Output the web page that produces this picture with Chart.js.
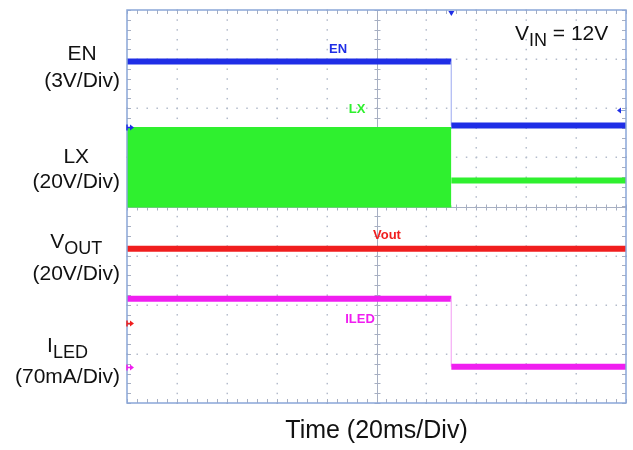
<!DOCTYPE html>
<html><head><meta charset="utf-8">
<script src="https://cdn.jsdelivr.net/npm/chart.js@4.4.1/dist/chart.umd.min.js"></script>
<style>html,body{margin:0;padding:0;background:#fff}#wrap{width:633px;height:450px}</style>
</head><body><div id="wrap"><canvas id="c" width="633" height="450"></canvas></div>
<script>
// ---- data (time in ms, 20 ms/div; levels in screen divisions from centre) ----
const STEP_TIME_MS = [0, 130, 130, 200];
const EN_DIV = [2.95, 2.95, 1.65, 1.65];
const LX_ON_TIME_MS = [0, 130];
const LX_ENV_TOP_DIV = [1.60, 1.60];
const LX_ENV_BOTTOM_DIV = [0.0, 0.0];
const LX_OFF_TIME_MS = [130, 200];
const LX_OFF_DIV = [0.53, 0.53];
const VOUT_TIME_MS = [0, 200];
const VOUT_DIV = [-0.86, -0.86];
const ILED_DIV = [-1.88, -1.88, -3.26, -3.26];
const X_TICKS_MS = [0, 20, 40, 60, 80, 100, 120, 140, 160, 180, 200];
const Y_TICKS_DIV = [-4, -3, -2, -1, 0, 1, 2, 3, 4];
const GROUND_LEVELS_DIV = [1.62, -2.37, -3.27];
const TRIGGER_TIME_MS = 130;
const TRIGGER_LEVEL_DIV = 1.97;
const CHANNEL_NAMES = ['EN', 'LX', 'V|OUT', 'I|LED'];
const CHANNEL_SCALES = ['(3V/Div)', '(20V/Div)', '(20V/Div)', '(70mA/Div)'];
const TRACE_TAGS = ['EN', 'LX', 'Vout', 'ILED'];
const X_TITLE = 'Time (20ms/Div)';
const VIN_TEXT = ['V', 'IN', ' = 12V'];

const BLUE = '#1f2ee6', GREEN = '#2ff02f', RED = '#f01e1e', MAGENTA = '#f01ef0';
const FONT = '"Liberation Sans", Arial, sans-serif';

const pts = (xs, ys) => xs.map((x, i) => ({x, y: ys[i]}));
const vert = c => c.p0.parsed.x === c.p1.parsed.x;

const gridPlugin = {
  id: 'scopeGrid',
  beforeDatasetsDraw(chart) {
    const {ctx, chartArea: a, scales: {x, y}} = chart;
    ctx.save();
    const xs = X_TICKS_MS, ys = Y_TICKS_DIV;
    // dotted interior division lines
    ctx.fillStyle = '#b4bccb';
    for (let i = 1; i < xs.length - 1; i++) {
      if (xs[i] === 100) continue;
      const px = Math.round(x.getPixelForValue(xs[i]));
      for (let v = ys[0]; v <= ys[ys.length - 1] + 1e-6; v += 0.2) {
        const py = y.getPixelForValue(v);
        ctx.fillRect(px - 0.5, py - 0.5, 1.5, 1.5);
      }
    }
    for (let j = 1; j < ys.length - 1; j++) {
      if (ys[j] === 0) continue;
      const py = Math.round(y.getPixelForValue(ys[j]));
      for (let t = xs[0]; t <= xs[xs.length - 1] + 1e-6; t += 4) {
        const px = x.getPixelForValue(t);
        ctx.fillRect(px - 0.5, py - 0.5, 1.5, 1.5);
      }
    }
    // centre cross
    ctx.strokeStyle = '#a7afc2';
    ctx.lineWidth = 1;
    const cx = Math.round(x.getPixelForValue(100)) + 0.5;
    const cy = Math.round(y.getPixelForValue(0)) + 0.5;
    ctx.beginPath();
    ctx.moveTo(cx, a.top); ctx.lineTo(cx, a.bottom);
    ctx.moveTo(a.left, cy); ctx.lineTo(a.right, cy);
    for (let v = ys[0]; v <= ys[ys.length - 1] + 1e-6; v += 0.2) {
      const py = Math.round(y.getPixelForValue(v)) + 0.5;
      ctx.moveTo(cx - 3, py); ctx.lineTo(cx + 3, py);
      ctx.moveTo(a.left, py); ctx.lineTo(a.left + 4, py);
      ctx.moveTo(a.right, py); ctx.lineTo(a.right - 4, py);
    }
    for (let t = xs[0]; t <= xs[xs.length - 1] + 1e-6; t += 4) {
      const px = Math.round(x.getPixelForValue(t)) + 0.5;
      ctx.moveTo(px, cy - 3); ctx.lineTo(px, cy + 3);
      ctx.moveTo(px, a.top); ctx.lineTo(px, a.top + 4);
      ctx.moveTo(px, a.bottom); ctx.lineTo(px, a.bottom - 4);
    }
    ctx.stroke();
    ctx.restore();
  },
  afterDatasetsDraw(chart) {
    const {ctx, chartArea: a, scales: {x, y}} = chart;
    ctx.save();
    // border
    ctx.strokeStyle = '#8aa6d8';
    ctx.lineWidth = 1.5;
    ctx.strokeRect(a.left, a.top, a.right - a.left, a.bottom - a.top);
    // ground markers (left)
    const gcol = [BLUE, RED, MAGENTA];
    GROUND_LEVELS_DIV.forEach((lv, i) => {
      const py = Math.round(y.getPixelForValue(lv)) + 0.5;
      ctx.strokeStyle = gcol[i]; ctx.fillStyle = gcol[i]; ctx.lineWidth = 1.5;
      ctx.beginPath(); ctx.moveTo(a.left, py - 3); ctx.lineTo(a.left, py + 3);
      ctx.moveTo(a.left, py); ctx.lineTo(a.left + 5, py); ctx.stroke();
      ctx.beginPath(); ctx.moveTo(a.left + 7, py); ctx.lineTo(a.left + 3, py - 3); ctx.lineTo(a.left + 3, py + 3); ctx.closePath(); ctx.fill();
    });
    // trigger level marker (right)
    const ty = Math.round(y.getPixelForValue(TRIGGER_LEVEL_DIV)) + 0.5;
    ctx.fillStyle = BLUE; ctx.strokeStyle = '#8aa6d8'; ctx.lineWidth = 1;
    ctx.beginPath(); ctx.moveTo(a.right - 9, ty); ctx.lineTo(a.right - 5, ty - 3); ctx.lineTo(a.right - 5, ty + 3); ctx.closePath(); ctx.fill();
    ctx.beginPath(); ctx.moveTo(a.right - 5, ty); ctx.lineTo(a.right, ty); ctx.stroke();
    // trigger time marker (top)
    const tx = x.getPixelForValue(TRIGGER_TIME_MS);
    ctx.fillStyle = BLUE;
    ctx.beginPath(); ctx.moveTo(tx - 3, a.top + 1); ctx.lineTo(tx + 3, a.top + 1); ctx.lineTo(tx, a.top + 6); ctx.closePath(); ctx.fill();
    // trace tags
    const tagPos = [[84.6, 3.19, BLUE], [92.2, 1.97, GREEN], [104.2, -0.58, RED], [93.4, -2.29, MAGENTA]];
    ctx.font = 'bold 13px ' + FONT; ctx.textAlign = 'center'; ctx.textBaseline = 'middle';
    TRACE_TAGS.forEach((t, i) => {
      ctx.fillStyle = tagPos[i][2];
      ctx.fillText(t, x.getPixelForValue(tagPos[i][0]), y.getPixelForValue(tagPos[i][1]));
    });
    ctx.restore();
  },
  afterDraw(chart) {
    const {ctx, chartArea: a, scales: {x}} = chart;
    ctx.save();
    ctx.fillStyle = '#111'; ctx.textBaseline = 'alphabetic';
    const base1 = [60, 163, 248, 352], base2 = [87, 188, 280, 383];
    CHANNEL_NAMES.forEach((nm, i) => {
      ctx.font = '21px ' + FONT;
      const w2 = ctx.measureText(CHANNEL_SCALES[i]).width;
      const right = 120, cxp = right - w2 / 2;
      ctx.textAlign = 'left';
      ctx.fillText(CHANNEL_SCALES[i], right - w2, base2[i]);
      const [main, sub] = nm.split('|');
      ctx.font = '21px ' + FONT;
      const wm = ctx.measureText(main).width;
      let ws = 0;
      if (sub) { ctx.font = '18px ' + FONT; ws = ctx.measureText(sub).width; }
      const start = cxp - (wm + ws) / 2;
      ctx.font = '21px ' + FONT;
      ctx.fillText(main, start, base1[i]);
      if (sub) { ctx.font = '18px ' + FONT; ctx.fillText(sub, start + wm, base1[i] + 6); }
    });
    // VIN
    ctx.font = '21px ' + FONT; ctx.textAlign = 'left';
    let vx = 515;
    ctx.fillText(VIN_TEXT[0], vx, 40); vx += ctx.measureText(VIN_TEXT[0]).width;
    ctx.font = '18px ' + FONT; ctx.fillText(VIN_TEXT[1], vx, 46); vx += ctx.measureText(VIN_TEXT[1]).width;
    ctx.font = '21px ' + FONT; ctx.fillText(VIN_TEXT[2], vx, 40);
    // x title
    ctx.font = '25px ' + FONT; ctx.textAlign = 'center'; ctx.textBaseline = 'middle';
    ctx.fillText(X_TITLE, x.getPixelForValue(100), 431);
    ctx.restore();
  }
};

new Chart(document.getElementById('c'), {
  type: 'line',
  data: {
    datasets: [
      {label: 'EN', data: pts(STEP_TIME_MS, EN_DIV), borderColor: BLUE, borderWidth: 6,
       segment: {borderWidth: c => vert(c) ? 1 : undefined, borderColor: c => vert(c) ? '#b8c0f4' : undefined}},
      {label: 'LX', data: pts(LX_ON_TIME_MS, LX_ENV_TOP_DIV), borderColor: GREEN, borderWidth: 2, backgroundColor: GREEN, fill: '+1'},
      {label: 'LX low', data: pts(LX_ON_TIME_MS, LX_ENV_BOTTOM_DIV), borderColor: GREEN, borderWidth: 2},
      {label: 'LX off', data: pts(LX_OFF_TIME_MS, LX_OFF_DIV), borderColor: GREEN, borderWidth: 6},
      {label: 'Vout', data: pts(VOUT_TIME_MS, VOUT_DIV), borderColor: RED, borderWidth: 6},
      {label: 'ILED', data: pts(STEP_TIME_MS, ILED_DIV), borderColor: MAGENTA, borderWidth: 6,
       segment: {borderWidth: c => vert(c) ? 1 : undefined, borderColor: c => vert(c) ? '#f6b8f6' : undefined}}
    ]
  },
  options: {
    responsive: false, animation: false, devicePixelRatio: 1,
    layout: {padding: {left: 127, top: 10, right: 7, bottom: 47}},
    plugins: {legend: {display: false}, tooltip: {enabled: false}},
    scales: {
      x: {type: 'linear', min: X_TICKS_MS[0], max: X_TICKS_MS[X_TICKS_MS.length - 1], display: false},
      y: {type: 'linear', min: Y_TICKS_DIV[0], max: Y_TICKS_DIV[Y_TICKS_DIV.length - 1], display: false}
    },
    elements: {point: {radius: 0}, line: {tension: 0, borderCapStyle: 'butt'}}
  },
  plugins: [gridPlugin]
});
</script></body></html>
